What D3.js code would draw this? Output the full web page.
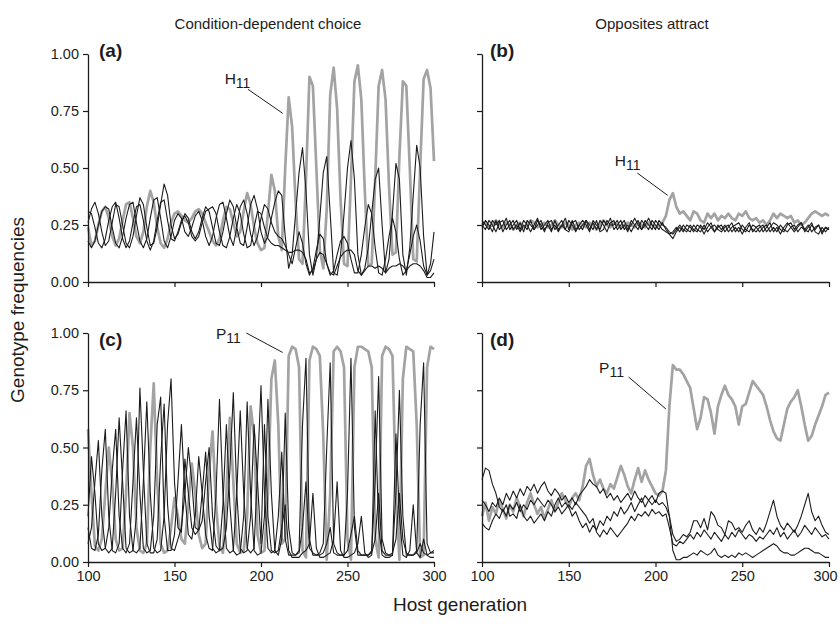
<!DOCTYPE html>
<html>
<head>
<meta charset="utf-8">
<script src="https://cdn.jsdelivr.net/npm/d3@7"></script>
<style>
  body { margin: 0; background: #fff; }
  text { font-family: "Liberation Sans", Arial, Helvetica, sans-serif; }
</style>
</head>
<body>
<svg id="chart" width="840" height="627"></svg>
<script>
// host generations sampled every 2 generations, 100..300
const generations = d3.range(100, 301, 2);
const xTickValues = [100, 150, 200, 250, 300];
const yTickValues = [0, 0.25, 0.5, 0.75, 1];
const columnTitles = ["Condition-dependent choice", "Opposites attract"];

// (a) condition-dependent choice, host genotypes
const grayA = [
  0.24,0.16,0.18,0.25,0.31,0.33,0.28,0.20,0.16,0.19,
  0.27,0.34,0.35,0.28,0.20,0.17,0.22,0.33,0.40,0.35,
  0.24,0.17,0.15,0.19,0.26,0.30,0.31,0.29,0.27,0.26,
  0.28,0.31,0.32,0.30,0.26,0.22,0.18,0.16,0.19,0.27,
  0.33,0.32,0.26,0.20,0.22,0.31,0.39,0.34,0.24,0.17,
  0.14,0.15,0.30,0.47,0.40,0.20,0.14,0.50,0.81,0.68,
  0.35,0.10,0.08,0.45,0.90,0.86,0.50,0.14,0.06,0.32,
  0.82,0.94,0.76,0.36,0.08,0.07,0.45,0.88,0.95,0.80,
  0.40,0.07,0.08,0.45,0.86,0.93,0.80,0.42,0.12,0.13,
  0.55,0.88,0.86,0.50,0.10,0.09,0.50,0.89,0.93,0.85,
  0.53];
const blackA1 = [
  0.26,0.32,0.35,0.30,0.22,0.16,0.18,0.26,0.34,0.33,
  0.25,0.17,0.15,0.20,0.29,0.37,0.34,0.24,0.16,0.17,
  0.24,0.34,0.43,0.38,0.25,0.19,0.21,0.26,0.30,0.28,
  0.22,0.19,0.22,0.28,0.33,0.31,0.24,0.17,0.16,0.22,
  0.30,0.36,0.33,0.24,0.17,0.16,0.24,0.34,0.38,0.32,
  0.22,0.17,0.20,0.28,0.35,0.40,0.38,0.20,0.06,0.12,
  0.30,0.48,0.59,0.40,0.12,0.03,0.10,0.28,0.48,0.55,
  0.30,0.04,0.03,0.12,0.30,0.50,0.62,0.45,0.12,0.03,
  0.06,0.15,0.30,0.45,0.50,0.25,0.04,0.10,0.30,0.52,
  0.45,0.12,0.03,0.15,0.38,0.60,0.50,0.20,0.03,0.08,
  0.22];
const blackA2 = [
  0.18,0.15,0.18,0.25,0.31,0.33,0.32,0.24,0.17,0.15,
  0.20,0.28,0.34,0.35,0.26,0.18,0.15,0.19,0.28,0.36,
  0.37,0.28,0.18,0.15,0.20,0.27,0.30,0.28,0.22,0.20,
  0.24,0.29,0.31,0.27,0.20,0.16,0.20,0.28,0.34,0.35,
  0.28,0.20,0.16,0.24,0.33,0.36,0.30,0.21,0.16,0.20,
  0.28,0.34,0.32,0.26,0.22,0.20,0.19,0.16,0.12,0.08,
  0.15,0.22,0.17,0.08,0.03,0.06,0.14,0.21,0.19,0.08,
  0.03,0.05,0.12,0.18,0.20,0.17,0.10,0.04,0.04,0.12,
  0.24,0.34,0.30,0.15,0.04,0.03,0.10,0.20,0.28,0.22,
  0.10,0.03,0.05,0.12,0.20,0.25,0.18,0.07,0.03,0.05,
  0.10];
const blackA3 = [
  0.31,0.30,0.24,0.17,0.15,0.19,0.27,0.33,0.35,0.28,
  0.19,0.15,0.18,0.26,0.33,0.34,0.27,0.18,0.14,0.18,
  0.27,0.35,0.36,0.27,0.19,0.18,0.22,0.27,0.29,0.26,
  0.20,0.18,0.20,0.26,0.31,0.32,0.33,0.30,0.22,0.16,
  0.15,0.20,0.28,0.34,0.30,0.21,0.15,0.16,0.24,0.31,
  0.30,0.24,0.19,0.17,0.16,0.16,0.15,0.14,0.13,0.13,
  0.14,0.14,0.13,0.10,0.04,0.05,0.10,0.13,0.12,0.08,
  0.04,0.03,0.07,0.11,0.13,0.14,0.14,0.12,0.05,0.03,
  0.05,0.07,0.07,0.06,0.07,0.06,0.04,0.06,0.07,0.07,
  0.08,0.07,0.05,0.07,0.08,0.08,0.07,0.05,0.02,0.02,
  0.04];

// (b) opposites attract, host genotypes
const grayB = [
  0.25,0.26,0.24,0.25,0.27,0.25,0.24,0.26,0.25,0.23,
  0.25,0.26,0.24,0.25,0.27,0.26,0.24,0.25,0.26,0.24,
  0.25,0.27,0.25,0.24,0.26,0.25,0.23,0.25,0.26,0.25,
  0.24,0.26,0.25,0.23,0.25,0.27,0.25,0.24,0.26,0.25,
  0.24,0.25,0.26,0.25,0.24,0.26,0.25,0.24,0.26,0.25,
  0.24,0.25,0.26,0.29,0.36,0.39,0.33,0.30,0.31,0.29,
  0.27,0.31,0.30,0.27,0.26,0.30,0.28,0.30,0.27,0.29,
  0.28,0.30,0.28,0.27,0.30,0.29,0.31,0.28,0.27,0.28,
  0.26,0.27,0.25,0.27,0.30,0.28,0.30,0.29,0.28,0.29,
  0.26,0.27,0.25,0.26,0.28,0.30,0.31,0.30,0.29,0.30,
  0.29];
const blackB1 = [
  0.25,0.23,0.27,0.25,0.22,0.26,0.27,0.23,0.25,0.27,
  0.23,0.26,0.22,0.27,0.25,0.23,0.27,0.25,0.22,0.26,
  0.27,0.23,0.25,0.27,0.23,0.22,0.26,0.27,0.23,0.25,
  0.27,0.23,0.26,0.23,0.27,0.25,0.22,0.26,0.27,0.23,
  0.25,0.27,0.23,0.25,0.28,0.25,0.23,0.27,0.25,0.23,
  0.27,0.25,0.23,0.22,0.21,0.19,0.22,0.24,0.22,0.25,
  0.24,0.22,0.25,0.24,0.21,0.24,0.26,0.22,0.24,0.25,
  0.22,0.24,0.26,0.22,0.24,0.21,0.24,0.26,0.22,0.24,
  0.25,0.22,0.24,0.26,0.22,0.24,0.21,0.24,0.26,0.24,
  0.22,0.24,0.26,0.22,0.24,0.26,0.22,0.21,0.24,0.22,
  0.24];
const blackB2 = [
  0.24,0.27,0.25,0.22,0.27,0.23,0.25,0.28,0.23,0.25,
  0.27,0.23,0.27,0.25,0.22,0.25,0.28,0.23,0.25,0.27,
  0.23,0.25,0.22,0.25,0.28,0.23,0.27,0.23,0.25,0.27,
  0.25,0.22,0.27,0.25,0.23,0.27,0.25,0.28,0.23,0.25,
  0.27,0.23,0.25,0.22,0.25,0.27,0.23,0.25,0.28,0.25,
  0.23,0.27,0.25,0.24,0.22,0.21,0.23,0.25,0.23,0.22,
  0.25,0.23,0.22,0.25,0.23,0.26,0.24,0.22,0.25,0.23,
  0.25,0.22,0.24,0.25,0.26,0.23,0.22,0.25,0.23,0.22,
  0.24,0.25,0.22,0.24,0.26,0.25,0.23,0.22,0.25,0.26,
  0.23,0.25,0.26,0.23,0.22,0.25,0.23,0.25,0.22,0.24,
  0.23];
const blackB3 = [
  0.27,0.25,0.23,0.27,0.25,0.27,0.22,0.25,0.27,0.23,
  0.25,0.22,0.25,0.23,0.27,0.23,0.25,0.27,0.23,0.25,
  0.22,0.27,0.23,0.25,0.23,0.27,0.25,0.22,0.25,0.23,
  0.27,0.25,0.23,0.27,0.22,0.23,0.27,0.25,0.25,0.27,
  0.23,0.25,0.22,0.27,0.25,0.23,0.27,0.25,0.23,0.27,
  0.25,0.23,0.26,0.23,0.21,0.22,0.24,0.22,0.25,0.23,
  0.22,0.25,0.23,0.22,0.25,0.22,0.24,0.25,0.23,0.22,
  0.24,0.25,0.22,0.24,0.22,0.25,0.23,0.22,0.25,0.24,
  0.22,0.24,0.25,0.22,0.24,0.22,0.25,0.23,0.22,0.24,
  0.25,0.22,0.24,0.23,0.25,0.22,0.24,0.25,0.21,0.24,
  0.23];

// (c) condition-dependent choice, parasite genotypes
const grayC = [
  0.58,0.30,0.07,0.05,0.10,0.30,0.50,0.35,0.10,0.05,
  0.06,0.30,0.65,0.50,0.15,0.05,0.04,0.08,0.50,0.78,
  0.35,0.08,0.04,0.05,0.15,0.28,0.20,0.10,0.08,0.25,
  0.43,0.30,0.12,0.06,0.08,0.40,0.57,0.25,0.07,0.04,
  0.30,0.63,0.35,0.08,0.04,0.05,0.20,0.68,0.55,0.12,
  0.04,0.05,0.30,0.80,0.88,0.60,0.08,0.10,0.90,0.94,
  0.93,0.85,0.05,0.02,0.88,0.94,0.93,0.90,0.55,0.01,
  0.30,0.92,0.94,0.92,0.85,0.10,0.01,0.85,0.94,0.94,
  0.93,0.92,0.85,0.10,0.02,0.90,0.94,0.93,0.90,0.30,
  0.01,0.80,0.94,0.93,0.92,0.60,0.02,0.03,0.85,0.94,
  0.93];
const blackC1 = [
  0.20,0.46,0.30,0.08,0.05,0.06,0.15,0.40,0.58,0.20,
  0.06,0.04,0.08,0.35,0.63,0.30,0.06,0.04,0.05,0.20,
  0.60,0.72,0.20,0.05,0.05,0.12,0.35,0.60,0.30,0.12,
  0.10,0.20,0.46,0.30,0.12,0.06,0.05,0.30,0.71,0.30,
  0.06,0.04,0.05,0.30,0.66,0.30,0.06,0.04,0.06,0.40,
  0.77,0.30,0.06,0.04,0.05,0.20,0.48,0.10,0.03,0.03,
  0.03,0.05,0.60,0.89,0.10,0.03,0.03,0.03,0.04,0.08,
  0.15,0.04,0.03,0.03,0.03,0.30,0.89,0.15,0.03,0.03,
  0.03,0.03,0.04,0.10,0.30,0.05,0.03,0.03,0.03,0.30,
  0.75,0.20,0.03,0.03,0.03,0.04,0.08,0.04,0.03,0.04,
  0.04];
const blackC2 = [
  0.08,0.15,0.35,0.53,0.20,0.06,0.04,0.06,0.30,0.63,
  0.35,0.06,0.04,0.05,0.20,0.76,0.40,0.08,0.04,0.04,
  0.10,0.45,0.69,0.25,0.06,0.05,0.10,0.15,0.30,0.50,
  0.35,0.15,0.14,0.30,0.48,0.20,0.06,0.04,0.05,0.25,
  0.60,0.25,0.05,0.03,0.04,0.20,0.70,0.30,0.05,0.03,
  0.04,0.20,0.71,0.30,0.05,0.03,0.10,0.65,0.15,0.04,
  0.03,0.04,0.15,0.35,0.06,0.04,0.03,0.04,0.08,0.50,
  0.87,0.08,0.04,0.03,0.03,0.05,0.12,0.20,0.05,0.03,
  0.03,0.03,0.05,0.35,0.81,0.10,0.04,0.03,0.04,0.10,
  0.30,0.10,0.04,0.03,0.03,0.05,0.60,0.87,0.08,0.04,
  0.05];
const blackC3 = [
  0.15,0.06,0.05,0.12,0.40,0.58,0.20,0.05,0.04,0.08,
  0.40,0.66,0.20,0.05,0.04,0.06,0.35,0.70,0.30,0.06,
  0.04,0.05,0.20,0.60,0.80,0.35,0.15,0.13,0.45,0.30,
  0.15,0.12,0.14,0.18,0.35,0.50,0.20,0.07,0.05,0.06,
  0.15,0.40,0.74,0.30,0.06,0.04,0.05,0.20,0.60,0.35,
  0.08,0.60,0.20,0.05,0.04,0.05,0.15,0.25,0.05,0.02,
  0.02,0.02,0.04,0.05,0.08,0.30,0.06,0.02,0.02,0.03,
  0.04,0.10,0.35,0.05,0.02,0.02,0.03,0.04,0.08,0.20,
  0.04,0.02,0.03,0.66,0.15,0.03,0.02,0.02,0.03,0.56,
  0.20,0.03,0.02,0.05,0.25,0.04,0.02,0.10,0.03,0.02,
  0.02];

// (d) opposites attract, parasite genotypes
const grayD = [
  0.20,0.26,0.18,0.24,0.21,0.27,0.23,0.19,0.25,0.22,
  0.28,0.24,0.20,0.26,0.30,0.25,0.21,0.24,0.19,0.23,
  0.27,0.22,0.26,0.30,0.27,0.24,0.28,0.30,0.27,0.33,
  0.42,0.45,0.38,0.33,0.36,0.32,0.30,0.34,0.32,0.37,
  0.42,0.38,0.33,0.30,0.36,0.41,0.35,0.40,0.36,0.33,
  0.30,0.29,0.31,0.40,0.68,0.86,0.84,0.84,0.82,0.79,
  0.76,0.67,0.58,0.63,0.72,0.71,0.65,0.56,0.68,0.73,
  0.77,0.73,0.71,0.68,0.60,0.68,0.69,0.74,0.79,0.77,
  0.75,0.73,0.68,0.62,0.57,0.54,0.53,0.60,0.67,0.70,
  0.72,0.75,0.68,0.60,0.53,0.55,0.60,0.64,0.68,0.73,
  0.74];
const blackD1 = [
  0.36,0.41,0.40,0.34,0.30,0.24,0.22,0.25,0.20,0.21,
  0.19,0.25,0.20,0.18,0.20,0.17,0.19,0.21,0.18,0.22,
  0.20,0.25,0.28,0.24,0.26,0.24,0.20,0.22,0.18,0.15,
  0.17,0.13,0.16,0.14,0.18,0.16,0.20,0.18,0.22,0.20,
  0.24,0.21,0.23,0.26,0.22,0.25,0.28,0.24,0.27,0.29,
  0.26,0.30,0.31,0.30,0.20,0.05,0.01,0.01,0.02,0.02,
  0.03,0.04,0.03,0.05,0.04,0.03,0.04,0.06,0.03,0.02,
  0.03,0.02,0.03,0.02,0.04,0.03,0.04,0.03,0.02,0.03,
  0.04,0.05,0.06,0.07,0.08,0.07,0.05,0.04,0.04,0.03,
  0.03,0.04,0.05,0.06,0.06,0.05,0.04,0.04,0.03,0.02,
  0.02];
const blackD2 = [
  0.27,0.25,0.22,0.26,0.24,0.28,0.25,0.30,0.27,0.31,
  0.28,0.32,0.29,0.33,0.31,0.34,0.30,0.33,0.35,0.31,
  0.29,0.32,0.30,0.27,0.29,0.26,0.28,0.25,0.29,0.31,
  0.33,0.36,0.34,0.33,0.30,0.32,0.28,0.30,0.27,0.29,
  0.26,0.28,0.30,0.27,0.31,0.28,0.26,0.29,0.27,0.25,
  0.27,0.25,0.26,0.24,0.20,0.12,0.09,0.10,0.12,0.11,
  0.13,0.18,0.18,0.15,0.19,0.14,0.22,0.20,0.16,0.15,
  0.12,0.18,0.17,0.14,0.15,0.13,0.16,0.18,0.14,0.12,
  0.15,0.13,0.17,0.22,0.27,0.20,0.16,0.14,0.17,0.15,
  0.13,0.16,0.20,0.25,0.30,0.22,0.18,0.20,0.16,0.13,
  0.12];
const blackD3 = [
  0.17,0.15,0.14,0.18,0.21,0.19,0.23,0.20,0.25,0.23,
  0.26,0.22,0.25,0.23,0.27,0.25,0.28,0.26,0.24,0.27,
  0.25,0.22,0.24,0.21,0.23,0.25,0.23,0.26,0.24,0.22,
  0.20,0.17,0.19,0.13,0.11,0.14,0.12,0.15,0.13,0.11,
  0.13,0.15,0.17,0.20,0.18,0.21,0.20,0.22,0.20,0.23,
  0.21,0.22,0.20,0.21,0.15,0.08,0.07,0.09,0.08,0.10,
  0.12,0.10,0.13,0.11,0.14,0.12,0.10,0.13,0.11,0.09,
  0.12,0.10,0.13,0.11,0.14,0.12,0.10,0.12,0.11,0.09,
  0.11,0.10,0.12,0.14,0.12,0.15,0.11,0.13,0.10,0.12,
  0.14,0.11,0.13,0.16,0.14,0.12,0.15,0.13,0.11,0.12,
  0.10];

const svg = d3.select("#chart");
const ink = "#1c1c1c";
const grey = "#a3a3a3";

const panels = [
  { label: "(a)", left: 88, right: 434, top: 54, bottom: 282, labelX: 99, labelY: 57,
    gray: grayA, black: [blackA1, blackA2, blackA3], xLabels: false, yLabels: true,
    tag: "H", tagAt: [179, 0.87], lead: [[192.5, 0.845], [212.5, 0.74]] },
  { label: "(b)", left: 482, right: 829, top: 54, bottom: 282, labelX: 490, labelY: 57,
    gray: grayB, black: [blackB1, blackB2, blackB3], xLabels: false, yLabels: false,
    tag: "H", tagAt: [176.5, 0.51], lead: [[189.5, 0.478], [207, 0.38]] },
  { label: "(c)", left: 88, right: 434, top: 333, bottom: 562, labelX: 99, labelY: 346,
    gray: grayC, black: [blackC1, blackC2, blackC3], xLabels: true, yLabels: true,
    tag: "P", tagAt: [174, 0.975], lead: [[191.5, 1.0], [212.5, 0.915]] },
  { label: "(d)", left: 482, right: 829, top: 333, bottom: 562, labelX: 490, labelY: 346,
    gray: grayD, black: [blackD1, blackD2, blackD3], xLabels: true, yLabels: false,
    tag: "P", tagAt: [167.5, 0.825], lead: [[184.5, 0.808], [206, 0.668]] }
];

panels.forEach(p => {
  const x = d3.scaleLinear().domain([100, 300]).range([p.left, p.right]);
  const y = d3.scaleLinear().domain([0, 1]).range([p.bottom, p.top]);
  const g = svg.append("g");

  const line = d3.line()
    .x((d, i) => x(generations[i]))
    .y(d => y(d));

  g.append("path")
    .datum(p.gray)
    .attr("d", line)
    .attr("fill", "none")
    .attr("stroke", grey)
    .attr("stroke-width", 2.7)
    .attr("stroke-linejoin", "round");

  p.black.forEach(s => {
    g.append("path")
      .datum(s)
      .attr("d", line)
      .attr("fill", "none")
      .attr("stroke", ink)
      .attr("stroke-width", 1.1)
      .attr("stroke-linejoin", "round");
  });

  // axes
  const yAxis = d3.axisLeft(y).tickValues(yTickValues).tickSize(5).tickSizeOuter(0).tickPadding(4)
    .tickFormat(p.yLabels ? d3.format(".2f") : "");
  const xAxis = d3.axisBottom(x).tickValues(xTickValues).tickSize(5).tickSizeOuter(0).tickPadding(4)
    .tickFormat(p.xLabels ? d3.format("d") : "");

  const ya = g.append("g").attr("transform", `translate(${p.left},0)`).call(yAxis);
  const xa = g.append("g").attr("transform", `translate(0,${p.bottom})`).call(xAxis);
  [ya, xa].forEach(a => {
    a.select(".domain").attr("stroke", ink).attr("stroke-width", 1.3);
    a.selectAll(".tick line").attr("stroke", ink).attr("stroke-width", 1.2);
    a.selectAll(".tick text").attr("fill", ink).attr("font-size", 14.5)
      .attr("font-family", '"Liberation Sans", Arial, sans-serif');
  });
  // keep the last label of the right column inside the page
  if (p.right > 800) {
    xa.selectAll(".tick text").filter(d => d === 300).attr("dx", -4);
  }

  // panel label
  g.append("text")
    .attr("x", p.labelX).attr("y", p.labelY)
    .attr("font-size", 19).attr("font-weight", "bold").attr("fill", ink)
    .text(p.label);

  // genotype tag with leader line
  const t = g.append("text")
    .attr("x", x(p.tagAt[0])).attr("y", y(p.tagAt[1]))
    .attr("font-size", 15.5).attr("fill", ink);
  t.append("tspan").text(p.tag);
  t.append("tspan").attr("dy", 4).attr("font-size", 14).text("11");

  g.append("line")
    .attr("x1", x(p.lead[0][0])).attr("y1", y(p.lead[0][1]))
    .attr("x2", x(p.lead[1][0])).attr("y2", y(p.lead[1][1]))
    .attr("stroke", ink).attr("stroke-width", 1);
});

// column titles
svg.append("text").attr("x", 268).attr("y", 29).attr("text-anchor", "middle")
  .attr("font-size", 15).attr("fill", ink).text(columnTitles[0]);
svg.append("text").attr("x", 652).attr("y", 29).attr("text-anchor", "middle")
  .attr("font-size", 15).attr("fill", ink).text(columnTitles[1]);

// axis titles
svg.append("text").attr("x", 460).attr("y", 611).attr("text-anchor", "middle")
  .attr("font-size", 19).attr("fill", ink).text("Host generation");
svg.append("text")
  .attr("transform", "translate(24,310) rotate(-90)")
  .attr("text-anchor", "middle")
  .attr("font-size", 19).attr("fill", ink).text("Genotype frequencies");
</script>
</body>
</html>
